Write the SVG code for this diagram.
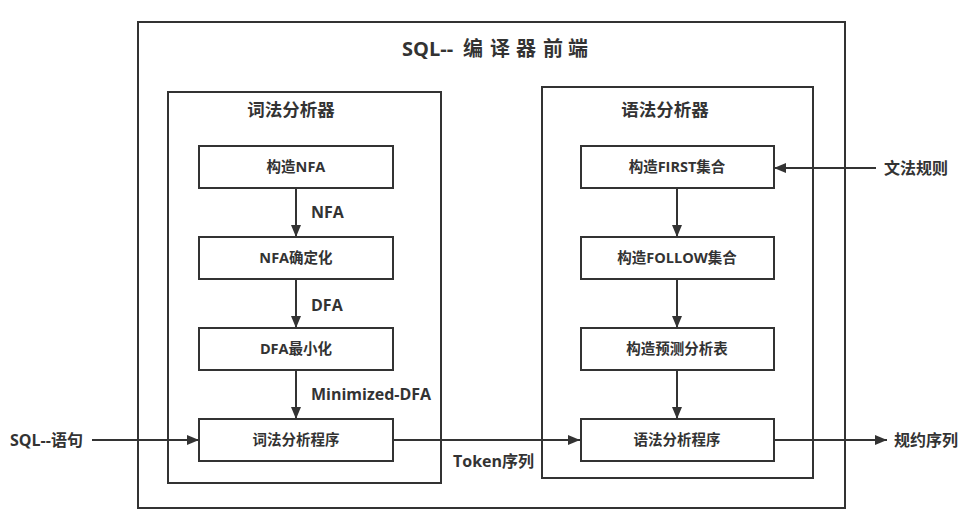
<svg xmlns="http://www.w3.org/2000/svg" width="964" height="531" viewBox="0 0 964 531">
<style>
text{font-family:"Open Sans","Noto Sans CJK SC",sans-serif;font-weight:bold;fill:#333}
.frame{fill:none;stroke:#333;stroke-width:2}
.box{fill:#fff;stroke:#333;stroke-width:2}
.t{font-size:14.5px;text-anchor:middle}
.lbl{font-size:16px}
.conn{stroke:#333;stroke-width:2;fill:none;marker-end:url(#ah)}
</style>
<defs>
<marker id="ah" viewBox="0 0 12 10" refX="12" refY="5" markerWidth="12" markerHeight="10" markerUnits="userSpaceOnUse" orient="auto">
<path d="M0,0 L12,5 L0,10 Z" fill="#333"/>
</marker>
</defs>
<rect width="964" height="531" fill="#fff"/>
<g id="frontend">
<rect class="frame" x="138" y="22" width="707" height="486"/>
<text y="56" font-size="20"><tspan x="402">SQL--</tspan><tspan x="463">编</tspan><tspan x="490">译</tspan><tspan x="516">器</tspan><tspan x="543">前</tspan><tspan x="568">端</tspan></text>
</g>
<g id="lexer">
<rect class="frame" x="168" y="92" width="273" height="391"/>
<text x="291" y="116" font-size="17.5" text-anchor="middle">词法分析器</text>
</g>
<g id="parser">
<rect class="frame" x="542" y="87" width="271" height="391"/>
<text x="665" y="116" font-size="17.5" text-anchor="middle">语法分析器</text>
</g>
<g id="connectors">
<path class="conn" d="M296,188 V237"/>
<path class="conn" d="M296,279 V328"/>
<path class="conn" d="M296,370 V419"/>
<path class="conn" d="M92,440 H199"/>
<path class="conn" d="M393,440 H580"/>
<path class="conn" d="M876,168 H774"/>
<path class="conn" d="M677,188 V237"/>
<path class="conn" d="M677,279 V328"/>
<path class="conn" d="M677,370 V419"/>
<path class="conn" d="M774,440 H887"/>
<text class="lbl" x="311" y="218">NFA</text>
<text class="lbl" x="311" y="311">DFA</text>
<text class="lbl" x="311" y="400">Minimized-DFA</text>
<text class="lbl" x="453" y="467">Token序列</text>
</g>
<g id="n1"><rect class="box" x="199" y="146" width="194" height="42"/><text class="t" x="296" y="172">构造NFA</text></g>
<g id="n2"><rect class="box" x="199" y="237" width="194" height="42"/><text class="t" x="296" y="263">NFA确定化</text></g>
<g id="n3"><rect class="box" x="199" y="328" width="194" height="42"/><text class="t" x="296" y="354">DFA最小化</text></g>
<g id="n4"><rect class="box" x="199" y="419" width="194" height="42"/><text class="t" x="296" y="445">词法分析程序</text></g>
<g id="m1"><rect class="box" x="581" y="146" width="193" height="42"/><text class="t" x="677" y="172">构造FIRST集合</text></g>
<g id="m2"><rect class="box" x="581" y="237" width="193" height="42"/><text class="t" x="677" y="263">构造FOLLOW集合</text></g>
<g id="m3"><rect class="box" x="581" y="328" width="193" height="42"/><text class="t" x="677" y="354">构造预测分析表</text></g>
<g id="m4"><rect class="box" x="581" y="419" width="193" height="42"/><text class="t" x="677" y="445">语法分析程序</text></g>
<g id="in-sql"><text class="lbl" x="10" y="446">SQL--语句</text></g>
<g id="in-grammar"><text class="lbl" x="884" y="174">文法规则</text></g>
<g id="out-reduce"><text class="lbl" x="894" y="446">规约序列</text></g>
</svg>
